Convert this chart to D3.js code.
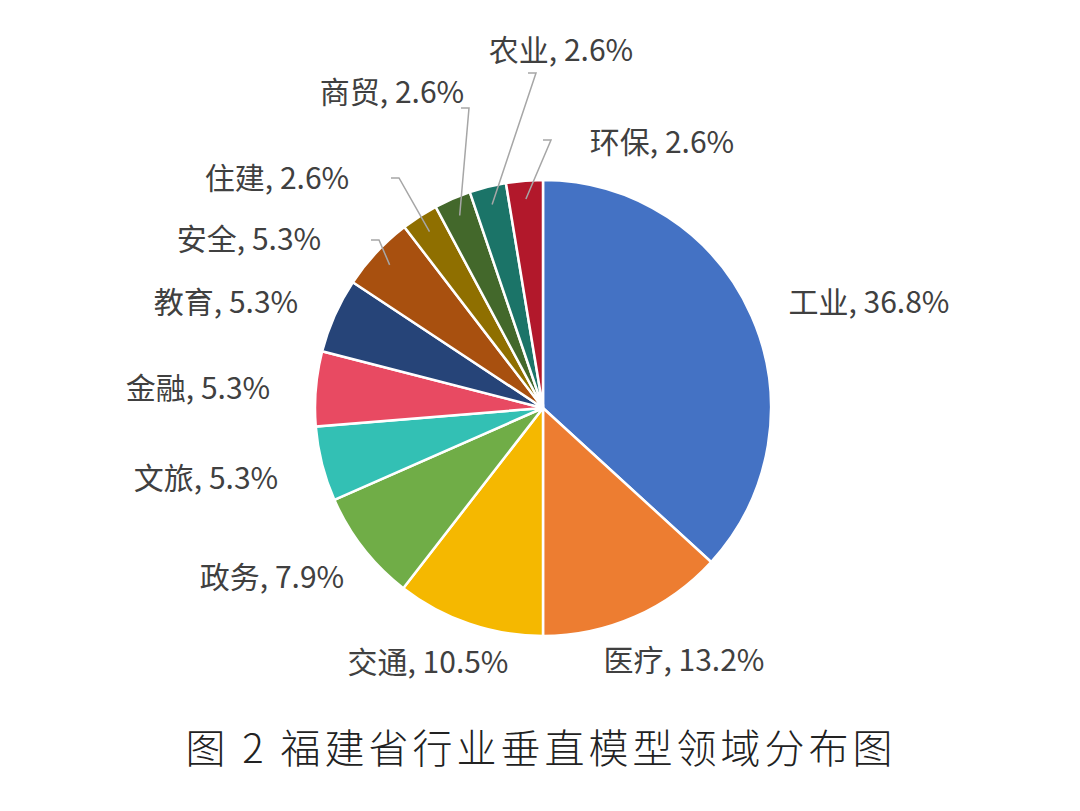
<!DOCTYPE html><html><head><meta charset="utf-8">
<script src="https://cdn.jsdelivr.net/npm/d3@7"></script>
<style>body{margin:0;background:#fff}</style></head><body>
<svg id="c" width="1080" height="811"></svg>
<script>
const categories=["工业","医疗","交通","政务","文旅","金融","教育","安全","住建","商贸","农业","环保"];
const values=[36.8,13.2,10.5,7.9,5.3,5.3,5.3,5.3,2.6,2.6,2.6,2.6];
const colors=["#4472C4","#ED7D31","#F5B800","#70AD47","#33C0B4","#E84A62","#264478","#A8500F","#8F6F00","#43682B","#1B7468","#B2182B"];
// label layout: text center offsets from pie center, and leader end point (or null)
const labelOff=[[326,-108],[141,250],[-115,252],[-271,167],[-337,68],[-345,-22],[-317,-108],[-294,-171],[-266,-232],[-151,-318],[18,-360],[119,-268]];
const leaderEnd=[null,null,null,null,null,null,null,[-172,-168],[-152,-230],[-82,-300],[-15,-335],[0,-268]];
const cx=543,cy=408,r=228;
const svg=d3.select("#c");
const g=svg.append("g").attr("transform",`translate(${cx},${cy})`);
const pie=d3.pie().sort(null).value(d=>d)(values);
const arc=d3.arc().innerRadius(0).outerRadius(r);
g.selectAll("path").data(pie).join("path").attr("d",arc).attr("fill",(d,i)=>colors[i]).attr("stroke","#fff").attr("stroke-width",2.5);
const edge=d3.arc().innerRadius(r*0.92).outerRadius(r*0.92);
pie.forEach((d,i)=>{
  if(leaderEnd[i]){
    const p=edge.centroid(d);const e=leaderEnd[i];
    g.append("path").attr("d",`M${e[0]},${e[1]}L${e[0]+8},${e[1]}L${p[0]},${p[1]}`).attr("fill","none").attr("stroke","#a6a6a6").attr("stroke-width",1.5);
  }
  g.append("text").attr("x",labelOff[i][0]).attr("y",labelOff[i][1]).attr("text-anchor","middle").attr("dominant-baseline","central")
   .attr("font-family","Noto Sans CJK SC").attr("font-size",30).attr("fill","#404040").text(`${categories[i]}, ${values[i].toFixed(1)}%`);
});
svg.append("text").attr("x",541).attr("y",746).attr("text-anchor","middle").attr("dominant-baseline","central")
 .attr("font-family","Noto Sans CJK SC").attr("font-weight",300).attr("font-size",40).attr("letter-spacing",4).attr("fill","#222").text("图 2  福建省行业垂直模型领域分布图");
</script></body></html>
